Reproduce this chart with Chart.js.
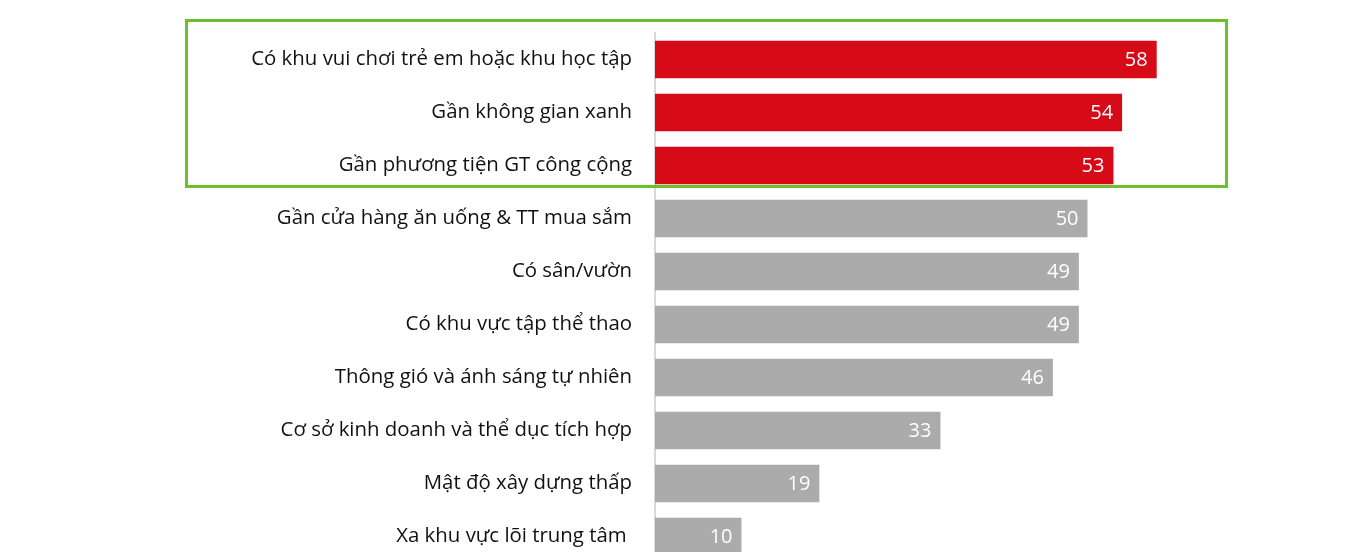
<!DOCTYPE html>
<html>
<head>
<meta charset="utf-8">
<script src="https://cdn.jsdelivr.net/npm/chart.js@4/dist/chart.umd.min.js"></script>
<style>
  html, body { margin: 0; padding: 0; background: #fff; overflow: hidden; }
  canvas { display: block; }
</style>
</head>
<body>
<canvas id="barChart" width="1350" height="572"></canvas>
<script>
// Data
const categories = [
    'Có khu vui chơi trẻ em hoặc khu học tập',
    'Gần không gian xanh',
    'Gần phương tiện GT công cộng',
    'Gần cửa hàng ăn uống & TT mua sắm',
    'Có sân/vườn',
    'Có khu vực tập thể thao',
    'Thông gió và ánh sáng tự nhiên',
    'Cơ sở kinh doanh và thể dục tích hợp',
    'Mật độ xây dựng thấp',
    'Xa khu vực lõi trung tâm '
];
const values = [58, 54, 53, 50, 49, 49, 46, 33, 19, 10];
const highlighted = [true, true, true, false, false, false, false, false, false, false];

const RED = '#d70b17';
const GREY = '#ababab';
const FONT = "'Open Sans', 'Noto Sans', sans-serif";

// white value labels at the end of each bar
const valueLabels = {
    id: 'valueLabels',
    afterDatasetsDraw(chart) {
        const { ctx } = chart;
        const meta = chart.getDatasetMeta(0);
        ctx.save();
        ctx.font = '20px ' + FONT;
        ctx.fillStyle = '#fff';
        ctx.textAlign = 'right';
        ctx.textBaseline = 'middle';
        meta.data.forEach((bar, i) => {
            ctx.fillText(String(values[i]), bar.x - 9, bar.y + 1);
        });
        ctx.restore();
    }
};

// green box round the top three items
const highlightBox = {
    id: 'highlightBox',
    afterDraw(chart) {
        const { ctx } = chart;
        ctx.save();
        ctx.strokeStyle = '#6cc02e';
        ctx.lineWidth = 3;
        ctx.strokeRect(186.5, 20.5, 1040, 166);
        ctx.restore();
    }
};

const ctx = document.getElementById('barChart').getContext('2d');

new Chart(ctx, {
    type: 'bar',
    data: {
        labels: categories,
        datasets: [{
            data: values,
            backgroundColor: highlighted.map(h => h ? RED : GREY),
            barPercentage: 0.71,
            categoryPercentage: 1.0
        }]
    },
    options: {
        indexAxis: 'y',
        responsive: false,
        animation: false,
        devicePixelRatio: 1,
        layout: { padding: { top: 33, bottom: 9, left: 0, right: 3 } },
        plugins: {
            legend: { display: false },
            tooltip: { enabled: false }
        },
        scales: {
            x: {
                display: false,
                min: 0,
                max: 80
            },
            y: {
                afterFit(scale) {
                    scale.width = 655;
                    // tick padding would otherwise eat into the bar area
                    scale.paddingTop = 0;
                    scale.paddingBottom = 0;
                },
                grid: { display: false, drawTicks: false },
                border: { display: true, color: '#d9d9d9', width: 2 },
                ticks: {
                    color: '#111',
                    padding: 23,
                    font: { family: FONT, size: 20.4 }
                }
            }
        }
    },
    plugins: [valueLabels, highlightBox]
});
</script>
</body>
</html>
